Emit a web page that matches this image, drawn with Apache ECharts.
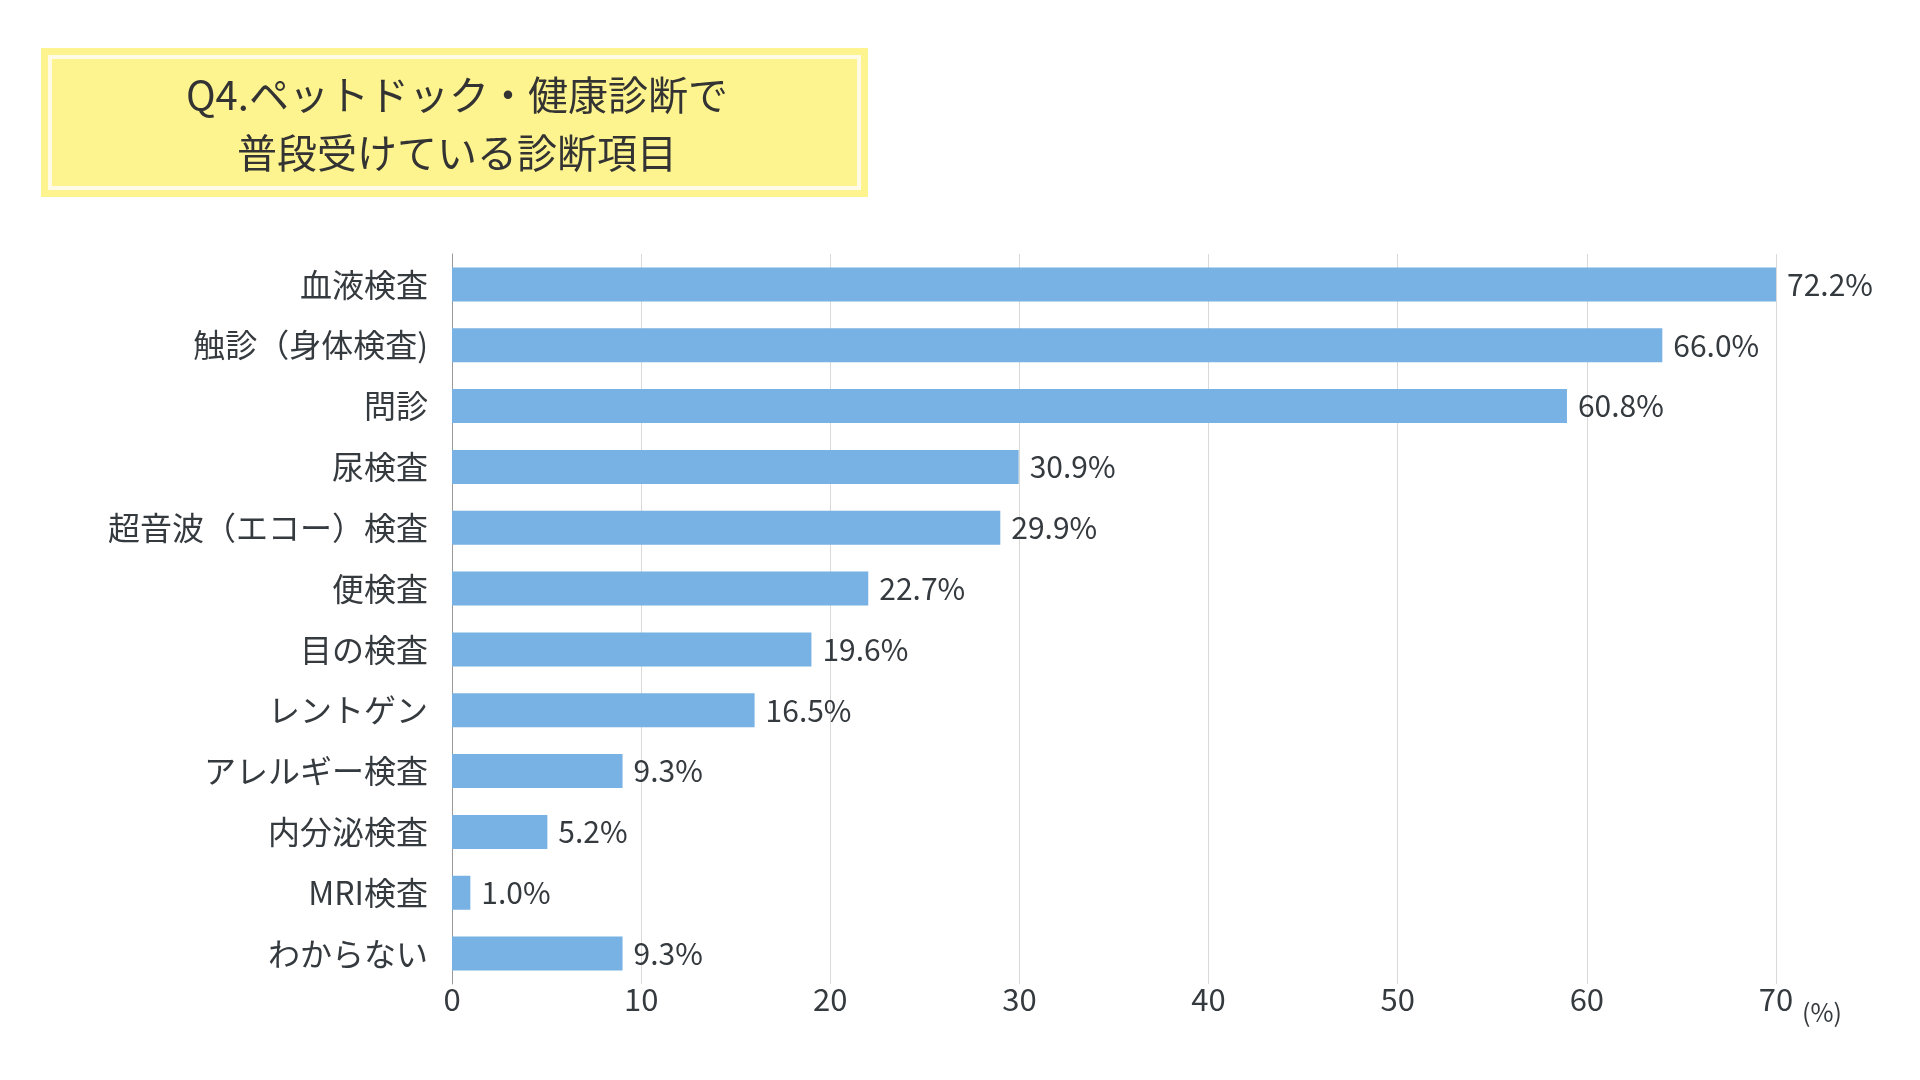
<!DOCTYPE html>
<html>
<head>
<meta charset="utf-8">
<title>Q4</title>
<script src="https://cdn.jsdelivr.net/npm/echarts@6/dist/echarts.min.js"></script>
<style>
    html, body { margin: 0; padding: 0; background: #fff; }
    #chart { width: 1920px; height: 1080px; }
</style>
</head>
<body>
<div id="chart"></div>
<script>
// 診断項目
var categories = ['血液検査', '触診（身体検査)', '問診', '尿検査', '超音波（エコー）検査', '便検査',
    '目の検査', 'レントゲン', 'アレルギー検査', '内分泌検査', 'MRI検査', 'わからない'];
// 割合(%)
var values = [72.2, 66.0, 60.8, 30.9, 29.9, 22.7, 19.6, 16.5, 9.3, 5.2, 1.0, 9.3];
// 目盛ラベル
var tickLabels = ['0', '10', '20', '30', '40', '50', '60', '70'];

var titleText = 'Q4.ペットドック・健康診断で\n普段受けている診断項目';
var fontFamily = '"Noto Sans CJK JP", "Noto Sans", sans-serif';
var textColor = '#353a3f';

// 横軸: 最大値を右端の目盛に合わせる
var axisMax = Math.max.apply(null, values);
var step = axisMax / (tickLabels.length - 1);

var my_chart = echarts.init(document.getElementById('chart'));
var option = {
    backgroundColor: '#fff',
    textStyle: { fontFamily: fontFamily },
    animation: false,
    // タイトル枠
    graphic: [
        {
            type: 'rect',
            shape: { x: 41, y: 48, width: 827, height: 149 },
            style: { fill: '#fef48f' }
        },
        {
            type: 'rect',
            shape: { x: 50, y: 57, width: 809, height: 131 },
            style: { fill: null, stroke: '#fffbe6', lineWidth: 4 }
        },
        {
            type: 'text',
            style: {
                text: titleText,
                x: 457,
                y: 124,
                align: 'center',
                verticalAlign: 'middle',
                fill: '#333333',
                font: 'normal 40px ' + fontFamily,
                lineHeight: 58
            }
        }
    ],
    grid: {
        left: 452,
        right: 144,
        top: 254,
        bottom: 96
    },
    xAxis: {
        type: 'value',
        min: 0,
        max: axisMax,
        interval: step,
        name: '(%)',
        nameLocation: 'end',
        nameGap: 26,
        nameTextStyle: {
            color: textColor,
            fontSize: 25,
            align: 'left',
            verticalAlign: 'top',
            padding: [16, 0, 0, 0]
        },
        axisLine: { show: false },
        axisTick: { show: false },
        splitLine: { lineStyle: { color: '#d9d9d9', width: 1 } },
        axisLabel: {
            color: textColor,
            fontSize: 31,
            margin: 0,
            formatter: function (v) {
                return tickLabels[Math.round(v / step)];
            }
        }
    },
    yAxis: {
        type: 'category',
        inverse: true,
        data: categories,
        axisLine: { show: true, lineStyle: { color: '#9a9a9a', width: 1 } },
        axisTick: { show: false },
        axisLabel: {
            color: textColor,
            fontSize: 32,
            margin: 24
        }
    },
    series: [{
        type: 'bar',
        data: values,
        barWidth: 34,
        itemStyle: { color: '#78b1e3' },
        label: {
            show: true,
            position: 'right',
            distance: 11,
            color: textColor,
            fontSize: 30,
            formatter: function (p) {
                return p.value.toFixed(1) + '%';
            }
        }
    }]
};
my_chart.setOption(option);
</script>
</body>
</html>
